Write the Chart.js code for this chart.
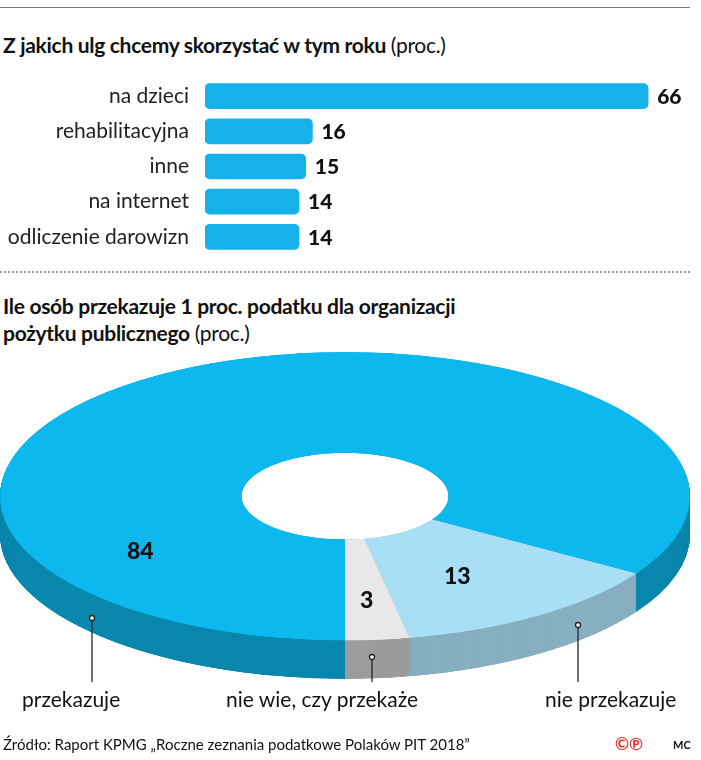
<!DOCTYPE html>
<html><head><meta charset="utf-8">
<script src="https://cdn.jsdelivr.net/npm/chart.js@4"></script>
<style>
body{margin:0;width:701px;height:760px;position:relative;background:#fff;font-family:Lato,"Open Sans",sans-serif;color:#111;overflow:hidden}
.a{position:absolute;white-space:nowrap}
.t{font-size:21px;font-weight:bold;letter-spacing:-0.3px}
.t span{font-weight:normal}
.lbl{font-size:21px}
.num{font-size:23px;font-weight:900}
#pie{position:absolute;left:0;top:352px;transform:scaleY(0.418);transform-origin:0 0}
</style></head><body>
<div class="a" style="left:0;top:7px;width:690px;border-top:1px solid #777"></div>
<div class="a t" style="left:3px;top:32px">Z jakich ulg chcemy skorzystać w tym roku <span>(proc.)</span></div>
<canvas id="bar" class="a" style="left:0;top:58px" width="700" height="217"></canvas>
<div class="a" style="left:0;top:271px;width:690px;border-top:2px dotted #999"></div>
<div class="a t" style="left:3px;top:292px;line-height:27px">Ile osób przekazuje 1 proc. podatku dla organizacji<br>pożytku publicznego <span>(proc.)</span></div>
<canvas id="pie" width="690" height="800"></canvas>
<svg class="a" style="left:0;top:0" width="701" height="760">
<g stroke="#222" stroke-width="1.3" fill="#fff">
<line x1="92" y1="618" x2="92" y2="682"/><circle cx="92" cy="618" r="2.5"/>
<line x1="372" y1="657" x2="372" y2="682"/><circle cx="372" cy="657" r="2.5"/>
<line x1="578" y1="625" x2="578" y2="682"/><circle cx="578" cy="625" r="2.5"/>
</g></svg>
<div class="a num" style="left:127px;top:536px">84</div>
<div class="a num" style="left:444px;top:561px">13</div>
<div class="a num" style="left:360px;top:585px">3</div>
<div class="a lbl" style="left:22px;top:686px">przekazuje</div>
<div class="a lbl" style="left:226px;top:686px">nie wie, czy przekaże</div>
<div class="a lbl" style="left:545px;top:686px">nie przekazuje</div>
<div class="a" style="left:3px;top:735px;font-size:15px">Źródło: Raport KPMG „Roczne zeznania podatkowe Polaków PIT 2018”</div>
<div class="a" style="left:615px;top:733px;font-size:17px;color:#e3312d;font-weight:bold">©℗</div>
<div class="a" style="left:673px;top:738px;font-size:11px;font-weight:bold">MC</div>
<script>
const barCategories=["na dzieci","rehabilitacyjna","inne","na internet","odliczenie darowizn"];
const barValues=[66,16,15,14,14];
const pieCategories=["przekazuje","nie przekazuje","nie wie, czy przekaże"];
const pieValues=[84,13,3];
const topColors=["#0cb8ee","#a8dff6","#e8e8e8"];
const sideColors=["#0987ad","#86afc0","#9c9c9c"];

new Chart(document.getElementById('bar'),{
type:'bar',
data:{labels:barCategories,datasets:[{data:barValues,backgroundColor:'#15b1e9',borderRadius:5,borderSkipped:false,barThickness:25}]},
options:{indexAxis:'y',responsive:false,animation:false,
layout:{padding:{right:25}},
plugins:{legend:{display:false},tooltip:{enabled:false}},
scales:{x:{display:false,min:0,max:70},
y:{grid:{display:false},border:{display:false},afterFit:a=>{a.width=205},
ticks:{color:'#222',padding:8,font:{family:'Lato',size:21}}}}},
plugins:[{id:'vals',afterDatasetsDraw(c){const ctx=c.ctx;ctx.save();ctx.font='900 21px Lato';ctx.fillStyle='#111';ctx.textBaseline='middle';
c.getDatasetMeta(0).data.forEach((b,i)=>ctx.fillText(barValues[i],b.x+9,b.y+1));ctx.restore();}}]
});

const depth=92;
new Chart(document.getElementById('pie'),{
type:'doughnut',
data:{labels:pieCategories,datasets:[{data:pieValues,backgroundColor:topColors,borderWidth:0}]},
options:{responsive:false,animation:false,rotation:180,cutout:'30%',
layout:{padding:{bottom:110}},
plugins:{legend:{display:false},tooltip:{enabled:false}}},
plugins:[{id:'side',beforeDatasetsDraw(c){const ctx=c.ctx;const arcs=c.getDatasetMeta(0).data;ctx.save();
for(let dy=depth;dy>0;dy-=1){arcs.forEach((a,i)=>{ctx.beginPath();
ctx.moveTo(a.x,a.y+dy);
ctx.arc(a.x,a.y+dy,a.outerRadius,a.startAngle,a.endAngle);ctx.closePath();
ctx.fillStyle=sideColors[i];ctx.fill();});}
const a=arcs[0];ctx.beginPath();ctx.arc(a.x,a.y,a.innerRadius,0,Math.PI*2);ctx.fillStyle='#fff';ctx.fill();
ctx.restore();}}]
});
</script>
</body></html>
